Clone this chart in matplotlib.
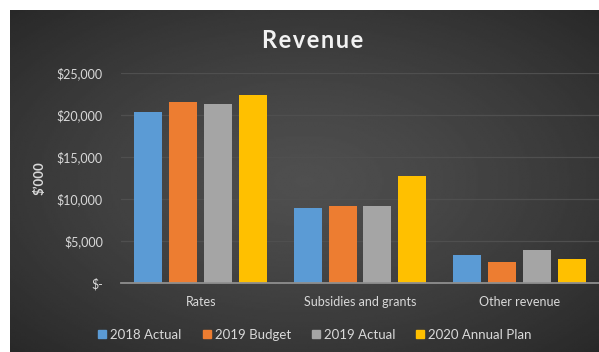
import numpy as np
import matplotlib.pyplot as plt
from matplotlib.ticker import FuncFormatter
from matplotlib.lines import Line2D

plt.rcParams['font.family'] = ['Lato', 'DejaVu Sans']

categories = ["Rates", "Subsidies and grants", "Other revenue"]
series_names = ["2018 Actual", "2019 Budget", "2019 Actual", "2020 Annual Plan"]
actual_2018 = [20300, 9000, 3400]
budget_2019 = [21500, 9200, 2500]
actual_2019 = [21300, 9200, 3900]
plan_2020 = [22400, 12800, 2900]
colors = ["#5B9BD5", "#ED7D31", "#A5A5A5", "#FFC000"]

W, H = 599, 352
fig = plt.figure(figsize=(W / 100, H / 100), dpi=100, facecolor="white")

# dark panel with a soft radial shading
bg = fig.add_axes([10 / W, 0, (W - 10) / W, (H - 10) / H])
yy, xx = np.mgrid[-1:1:200j, -1:1:300j]
r = np.clip(np.sqrt(xx ** 2 + yy ** 2) / np.sqrt(2), 0, 1)
shade = 0.31 - 0.15 * r ** 1.3
bg.imshow(shade, cmap="gray", vmin=0, vmax=1, aspect="auto",
          extent=[0, 1, 0, 1], interpolation="bilinear")
bg.set_axis_off()

ax = fig.add_axes([121 / W, (H - 283.3) / H, (W - 121) / W, (283.3 - 72.8) / H])
ax.patch.set_alpha(0)

x = np.arange(len(categories))
width = 0.1755
step = 0.219
for i, (vals, c) in enumerate(zip([actual_2018, budget_2019, actual_2019, plan_2020], colors)):
    ax.bar(x + (i - 1.5) * step, vals, width, color=c, zorder=3)

ax.set_xlim(-0.5, 2.5)
ax.set_ylim(0, 25000)
ax.set_yticks(range(0, 25001, 5000))
ax.yaxis.set_major_formatter(FuncFormatter(lambda v, p: "$-" if v == 0 else f"${v:,.0f}"))
ax.set_xticks(x)
ax.set_xticklabels(categories)
ax.grid(axis="y", color="#4f4f4f", linewidth=0.9, zorder=0)
for s in ["top", "right", "left"]:
    ax.spines[s].set_visible(False)
ax.spines["bottom"].set_color("#8f8f8f")
ax.spines["bottom"].set_linewidth(1.3)
ax.spines["bottom"].set_zorder(4)
ax.tick_params(axis="y", length=0, pad=13, labelsize=9, labelcolor="#d9d9d9")
ax.tick_params(axis="x", length=0, pad=9, labelsize=9, labelcolor="#d9d9d9")

# title with a little letter spacing
fig.text(313 / W, (H - 40) / H, "\u200a".join("Revenue"), ha="center", va="center",
         fontsize=17, fontweight="bold", color="#f2f2f2")
fig.text(40 / W, (H - 178) / H, "$\u2019000", rotation=90, ha="center", va="center",
         fontsize=9.5, fontweight="bold", color="#d9d9d9")

handles = [Line2D([], [], marker="s", linestyle="none", markersize=6,
                  markerfacecolor=c, markeredgecolor=c) for c in colors]
fig.legend(handles, series_names, loc="center", ncol=4, frameon=False,
           bbox_to_anchor=(315 / W, (H - 335) / H), fontsize=9.5,
           labelcolor="#d9d9d9", handlelength=0.6, handletextpad=0.3,
           columnspacing=1.6)

fig.savefig("out.png", dpi=100, facecolor="white")
